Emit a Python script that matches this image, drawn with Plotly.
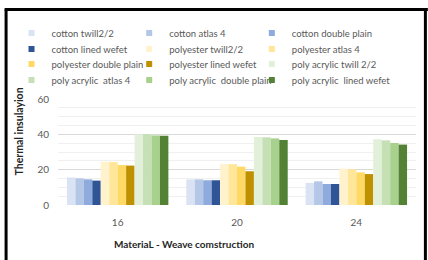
import plotly.graph_objects as go

categories = ["16", "20", "24"]
series_names = [
    "cotton twill2/2", "cotton atlas 4", "cotton double plain", "cotton lined wefet",
    "polyester twill2/2", "polyester atlas 4", "polyester double plain", "polyester lined wefet",
    "poly acrylic twill 2/2", "poly acrylic  atlas 4", "poly acrylic  double plain", "poly acrylic  lined wefet",
]
cotton_twill = [15.6, 14.5, 12.5]
cotton_atlas = [15.1, 14.5, 13.4]
cotton_double = [14.5, 14.0, 11.9]
cotton_lined = [13.8, 14.0, 11.9]
poly_twill = [24.5, 23.2, 20.6]
poly_atlas = [24.3, 23.1, 20.2]
poly_double = [22.6, 21.7, 18.5]
poly_lined = [22.3, 19.1, 17.5]
acr_twill = [40.0, 38.5, 37.2]
acr_atlas = [40.1, 38.3, 36.6]
acr_double = [39.4, 37.7, 35.1]
acr_lined = [39.2, 36.8, 34.2]
series_values = [cotton_twill, cotton_atlas, cotton_double, cotton_lined,
                 poly_twill, poly_atlas, poly_double, poly_lined,
                 acr_twill, acr_atlas, acr_double, acr_lined]
colors = ["#dae3f3", "#b4c7e7", "#8faadc", "#2f5597",
          "#fff2cc", "#ffe699", "#ffd966", "#bf9000",
          "#e2f0d9", "#c5e0b4", "#a9d18e", "#548235"]
y_ticks = [0, 20, 40, 60]

L, R, T, B = 54, 12, 99, 55
W, H = 428, 260
pw, ph = W - L - R, H - T - B

def px_to_paper_x(px):
    return (px - L) / pw

def px_to_paper_y(py):
    return (H - B - py) / ph

fig = go.Figure()
for name, vals, col in zip(series_names, series_values, colors):
    fig.add_trace(go.Bar(x=categories, y=vals, name=name, marker_color=col,
                         marker_line_width=0, showlegend=False))

legend_font = dict(family="Lato, sans-serif", size=9.5, color="#595959")
row_y = [33, 49, 64, 80]
col_text_x = [47, 166, 290]
layout_legends = {}
for i, (name, col) in enumerate(zip(series_names, colors)):
    lid = "legend" if i == 0 else f"legend{i + 1}"
    fig.add_trace(go.Scatter(x=[None], y=[None], mode="markers", name=name,
                             marker=dict(symbol="square", size=6, color=col),
                             legend=lid, showlegend=True))
    r, c = divmod(i, 3)
    layout_legends[lid] = dict(
        x=px_to_paper_x(col_text_x[c] - 40), y=px_to_paper_y(row_y[r]),
        xanchor="left", yanchor="middle", orientation="h",
        font=legend_font, bgcolor="rgba(0,0,0,0)", borderwidth=0)

fig.update_layout(
    width=W, height=H,
    margin=dict(l=L, r=R, t=T, b=B, pad=0),
    paper_bgcolor="white", plot_bgcolor="white",
    barmode="group", bargap=0.15, bargroupgap=0,
    font=dict(family="Lato, sans-serif", size=10, color="#595959"),
    xaxis=dict(type="category", showgrid=False, zeroline=False, showline=False,
               ticks="", tickfont=dict(size=10, color="#595959"), ticklabelstandoff=10),
    yaxis=dict(range=[0, 60], tickvals=y_ticks, showgrid=True, gridcolor="#d9d9d9",
               gridwidth=1, zeroline=False, showline=False, ticks="",
               tickfont=dict(size=10, color="#595959"), ticklabelstandoff=8,
               minor=dict(dtick=5, showgrid=True, gridcolor="#f0f0f0", gridwidth=1)),
    **layout_legends,
)

fig.add_annotation(text="<b>Thermal insulayion</b>", textangle=-90,
                   xref="paper", yref="paper", x=px_to_paper_x(15), y=px_to_paper_y(131),
                   xanchor="center", yanchor="middle", showarrow=False,
                   font=dict(family="Lato, sans-serif", size=10.5, color="#262626"))
fig.add_annotation(text="<b>MateriaL - Weave comstruction</b>",
                   xref="paper", yref="paper", x=px_to_paper_x(181), y=px_to_paper_y(244),
                   xanchor="center", yanchor="middle", showarrow=False,
                   font=dict(family="Lato, sans-serif", size=10, color="#262626"))

# outer black frame
frame = dict(color="black", width=3)
fig.add_shape(type="line", xref="paper", yref="paper", layer="above",
              x0=px_to_paper_x(1.5), x1=px_to_paper_x(1.5),
              y0=px_to_paper_y(9.5), y1=px_to_paper_y(265), line=frame)
fig.add_shape(type="line", xref="paper", yref="paper", layer="above",
              x0=px_to_paper_x(425.5), x1=px_to_paper_x(425.5),
              y0=px_to_paper_y(9.5), y1=px_to_paper_y(265), line=frame)
fig.add_shape(type="line", xref="paper", yref="paper", layer="above",
              x0=px_to_paper_x(0), x1=px_to_paper_x(428),
              y0=px_to_paper_y(9.5), y1=px_to_paper_y(9.5), line=frame)

fig.write_html("out.html")
